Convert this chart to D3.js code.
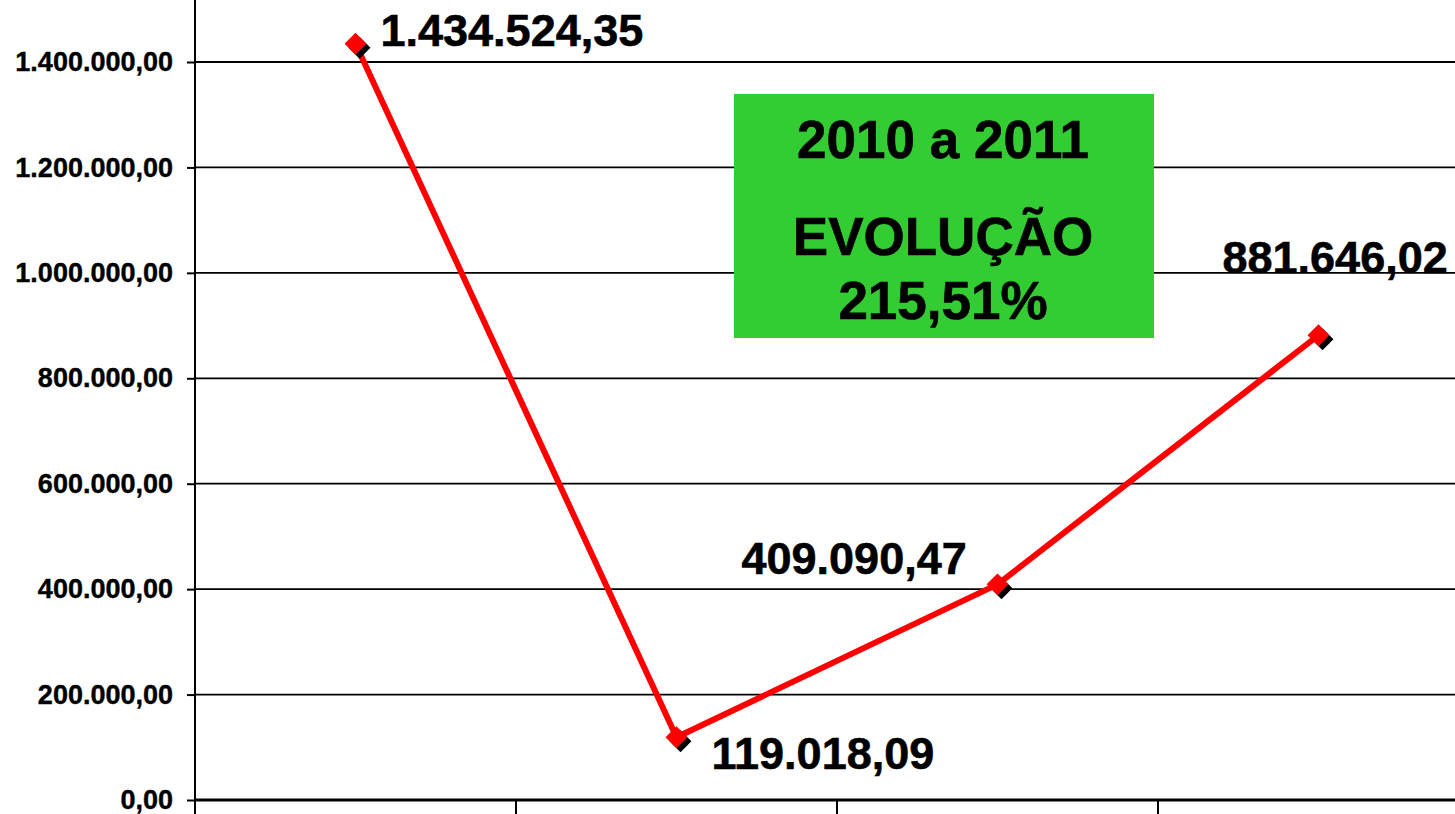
<!DOCTYPE html>
<html lang="pt">
<head>
<meta charset="utf-8">
<style>
  body { margin: 0; background: white; overflow: hidden; }
  svg { display: block; background: white; font-family: "Liberation Sans", Arial, sans-serif; }
  .tick text { font-weight: bold; }
</style>
<title>Evolução 2010 a 2011</title>
</head>
<body>
<script src="https://d3js.org/d3.v7.min.js"></script>
<script>

  // categories (their labels fall below the visible area, so they are not drawn)
  var categories = ["2008", "2009", "2010", "2011"];
  var values = [1434524.35, 119018.09, 409090.47, 881646.02];
  var labels = ["1.434.524,35", "119.018,09", "409.090,47", "881.646,02"];
  var yTicks = [0, 200000, 400000, 600000, 800000, 1000000, 1200000, 1400000];
  var boxLines = ["2010 a 2011", "EVOLUÇÃO", "215,51%"];

  var W = 1455, H = 814;
  var left = 195, bottom = 800;

  var svg = d3.select("body").append("svg")
      .attr("width", W)
      .attr("height", H);

  var x = d3.scaleBand()
      .domain(categories)
      .range([left, left + 4 * 321]);

  var y = d3.scaleLinear()
      .domain([0, 1400000])
      .range([bottom, 62]);

  var fmt = function(v) {
    // pt-BR style: 1.400.000,00
    var s = d3.format(",.2f")(v);
    return s.replace(/,/g, "#").replace(".", ",").replace(/#/g, ".");
  };

  // gridlines
  svg.append("g")
    .selectAll("line")
    .data(yTicks.slice(1))
    .enter().append("line")
      .attr("x1", left).attr("x2", W)
      .attr("y1", function(d) { return y(d); })
      .attr("y2", function(d) { return y(d); })
      .attr("stroke", "black")
      .attr("stroke-width", 1.8);

  // y axis
  var yAxis = svg.append("g")
      .attr("transform", "translate(" + left + ",0)")
      .call(d3.axisLeft(y).tickValues(yTicks).tickFormat(fmt).tickSize(8).tickPadding(14));
  yAxis.select(".domain").remove();
  yAxis.selectAll(".tick line").attr("stroke-width", 2);
  yAxis.selectAll(".tick text")
      .attr("font-size", 27)
      .attr("fill", "black")
      .attr("stroke", "black").attr("stroke-width", 0.4)
      .attr("font-family", "Liberation Sans, Arial, sans-serif");
  svg.append("line")
      .attr("x1", left).attr("x2", left)
      .attr("y1", 0).attr("y2", H)
      .attr("stroke", "black").attr("stroke-width", 2);

  // x axis: baseline plus category dividers
  svg.append("line")
      .attr("x1", left).attr("x2", W)
      .attr("y1", bottom).attr("y2", bottom)
      .attr("stroke", "black").attr("stroke-width", 3);
  svg.append("g")
    .selectAll("line")
    .data(categories)
    .enter().append("line")
      .attr("x1", function(d) { return x(d) + x.bandwidth(); })
      .attr("x2", function(d) { return x(d) + x.bandwidth(); })
      .attr("y1", bottom).attr("y2", bottom + 14)
      .attr("stroke", "black").attr("stroke-width", 2);

  // green note box
  var box = svg.append("g");
  box.append("rect")
      .attr("x", 734).attr("y", 94)
      .attr("width", 420).attr("height", 244)
      .attr("fill", "#33cc33");
  box.selectAll("text")
    .data(boxLines)
    .enter().append("text")
      .attr("x", 943)
      .attr("y", function(d, i) { return [158, 255, 319][i]; })
      .attr("text-anchor", "middle")
      .attr("font-size", 53)
      .attr("font-weight", "bold")
      .attr("fill", "black")
      .attr("stroke", "black").attr("stroke-width", 0.6)
      .text(function(d) { return d; });

  var cx = function(d, i) { return x(categories[i]) + x.bandwidth() / 2; };
  var cy = function(d) { return y(d); };

  // line
  svg.append("path")
      .datum(values)
      .attr("fill", "none")
      .attr("stroke", "#ff0000")
      .attr("stroke-width", 6)
      .attr("stroke-linejoin", "round")
      .attr("d", d3.line().x(cx).y(cy));

  // markers with black shadow
  var diamond = d3.symbol().type(d3.symbolSquare).size(240);
  svg.append("g").selectAll("path")
    .data(values)
    .enter().append("path")
      .attr("d", diamond)
      .attr("fill", "black")
      .attr("transform", function(d, i) { return "translate(" + (cx(d, i) + 4) + "," + (cy(d) + 4) + ") rotate(45)"; });
  svg.append("g").selectAll("path")
    .data(values)
    .enter().append("path")
      .attr("d", diamond)
      .attr("fill", "#ff0000")
      .attr("transform", function(d, i) { return "translate(" + cx(d, i) + "," + cy(d) + ") rotate(45)"; });

  // data labels
  var labelPos = [[25, 2], [35, 32], [-256, -10], [-96, -62]];
  svg.append("g").selectAll("text")
    .data(values)
    .enter().append("text")
      .attr("x", function(d, i) { return cx(d, i) + labelPos[i][0]; })
      .attr("y", function(d, i) { return cy(d) + labelPos[i][1]; })
      .attr("font-size", 45)
      .attr("font-weight", "bold")
      .attr("fill", "black")
      .attr("stroke", "black").attr("stroke-width", 0.6)
      .text(function(d, i) { return labels[i]; });

</script>
</body>
</html>
